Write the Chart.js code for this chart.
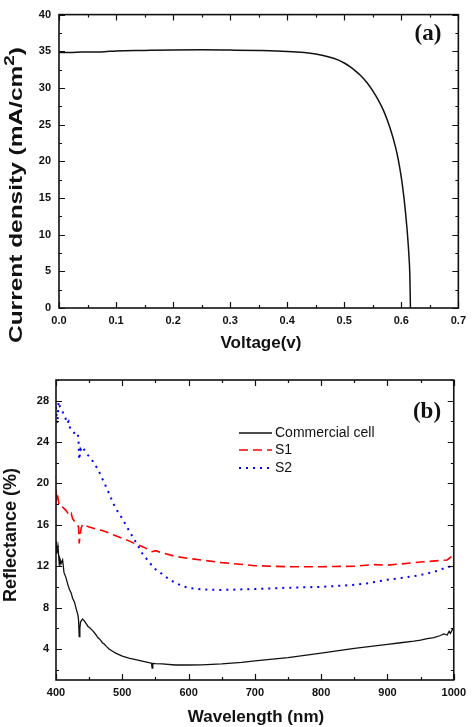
<!DOCTYPE html>
<html>
<head>
<meta charset="utf-8">
<script src="https://cdn.jsdelivr.net/npm/chart.js@4.4.1/dist/chart.umd.min.js"></script>
<style>
  html, body { margin: 0; padding: 0; background: #fff; }
  #wrap { position: relative; width: 472px; height: 727px; overflow: hidden; }
  canvas { position: absolute; left: 0; }
  #jv { top: 0; }
  #refl { top: 360px; }
</style>
</head>
<body>
<div id="wrap">
  <canvas id="jv" width="472" height="360"></canvas>
  <canvas id="refl" width="472" height="367"></canvas>
</div>
<script>
// ---------- (a) J-V curve ----------
const voltage = [0, 0.02, 0.04, 0.06, 0.08, 0.1, 0.15, 0.2, 0.25, 0.3, 0.35, 0.4, 0.43, 0.45, 0.47, 0.49,
  0.5, 0.51, 0.52, 0.53, 0.54, 0.55, 0.56, 0.57, 0.58, 0.59, 0.595, 0.6, 0.605, 0.61, 0.613, 0.615, 0.616];
const currentDensity = [34.85, 34.85, 34.9, 34.9, 34.95, 35.05, 35.12, 35.18, 35.2, 35.16, 35.1, 34.98, 34.82, 34.62, 34.3, 33.8,
  33.4, 32.9, 32.3, 31.6, 30.7, 29.6, 28.3, 26.7, 24.6, 21.9, 20.1, 17.8, 14.8, 10.8, 7.6, 4.4, 0];
const voltTicks = [0, 0.1, 0.2, 0.3, 0.4, 0.5, 0.6, 0.7];
const currentTicks = [0, 5, 10, 15, 20, 25, 30, 35, 40];

// ---------- (b) reflectance ----------
const wlCommercial = [400, 401, 403, 405, 406, 408, 410, 412, 415, 418, 420, 423, 425, 428, 430, 433, 434, 435, 436, 437,
  440, 443, 445, 448, 450, 455, 460, 463, 466, 470, 473, 476, 480, 486, 490, 500, 510, 520, 530, 540, 544, 545, 546,
  550, 560, 580, 600, 620, 650, 680, 700, 750, 800, 850, 900, 920, 940, 950, 960, 970, 980, 985, 990, 993, 995, 998, 1000];
const rCommercial = [14.4, 13.2, 13.9, 12.1, 12.7, 12.3, 12.6, 11.4, 10.9, 10.2, 9.8, 9.4, 8.9, 8.5, 8.0, 7.3, 6.8, 5.2, 6.0, 6.6,
  6.9, 6.7, 6.5, 6.2, 6.1, 5.8, 5.4, 5.1, 4.95, 4.6, 4.45, 4.25, 4.0, 3.75, 3.6, 3.3, 3.12, 2.97, 2.82, 2.68, 2.62, 2.15, 2.6,
  2.58, 2.55, 2.45, 2.45, 2.47, 2.55, 2.7, 2.85, 3.17, 3.6, 4.05, 4.45, 4.6, 4.75, 4.85, 5.0, 5.1, 5.3, 5.45, 5.35, 5.7, 5.5, 5.9, 5.8];

const wlS1 = [400, 401, 402, 404, 405, 410, 415, 420, 423, 425, 430, 434, 435, 436, 438, 440, 450, 460, 470, 480, 490,
  500, 510, 520, 530, 540, 545, 550, 560, 580, 600, 650, 700, 750, 800, 850, 880, 900, 950, 990, 1000];
const rS1 = [19.4, 18.6, 19.0, 18.2, 17.8, 17.7, 17.4, 16.9, 17.1, 16.6, 16.15, 15.8, 14.2, 14.8, 15.7, 16.05, 15.8, 15.6, 15.45, 15.2, 14.95,
  14.7, 14.45, 14.15, 13.9, 13.6, 13.4, 13.5, 13.3, 12.95, 12.75, 12.35, 12.05, 11.95, 11.95, 12.0, 12.15, 12.1, 12.4, 12.6, 13.1];

const wlS2 = [400, 401, 402, 404, 406, 409, 412, 414, 416, 419, 421, 425, 429, 433, 434, 435, 436, 437, 439, 441, 448, 456,
  461, 466, 471, 476, 481, 486, 493, 500, 511, 523, 530, 538, 548, 560, 570, 580, 590, 600, 620, 650, 700, 750, 800,
  850, 870, 900, 920, 950, 970, 990, 1000];
const rS2 = [27.4, 26.4, 25.8, 27.9, 27.4, 27.1, 26.6, 26.45, 25.8, 26.0, 25.4, 25.2, 24.7, 24.8, 24.0, 22.3, 22.8, 23.3, 23.1, 23.4, 22.75, 22.1,
  21.6, 21.0, 20.3, 19.6, 18.9, 18.1, 17.3, 16.6, 15.35, 14.05, 13.25, 12.6, 11.8, 11.25, 10.75, 10.4, 10.1, 9.9, 9.75, 9.7, 9.8, 9.92, 10.0,
  10.2, 10.35, 10.7, 10.85, 11.15, 11.45, 11.9, 12.05];

const wlTicks = [400, 500, 600, 700, 800, 900, 1000];
const reflTicks = [4, 8, 12, 16, 20, 24, 28];

const INK = '#111';
const SANS = '"Liberation Sans", Arial, sans-serif';
const SERIF = '"Liberation Serif", "Times New Roman", serif';

const pairs = (xs, ys) => xs.map((x, i) => ({ x, y: ys[i] }));

/** Major ticks plus the half-step minor ticks between them, inside [min, max]. */
function tickValues(majors, min, max) {
  const half = (majors[1] - majors[0]) / 2;
  let v = majors[0];
  while (v - half >= min - 1e-9) v -= half;
  const out = [];
  for (; v <= max + 1e-9; v += half) {
    out.push({ v, major: majors.some((m) => Math.abs(m - v) < 1e-6) });
  }
  return out;
}

function drawTitle(ctx, t) {
  ctx.save();
  ctx.translate(t.x, t.y);
  if (t.rotate) ctx.rotate(-Math.PI / 2);
  const parts = t.parts || [{ text: t.text }];
  const widths = parts.map((p) => { ctx.font = p.sup ? t.supFont : t.font; return ctx.measureText(p.text).width; });
  const total = widths.reduce((s, w) => s + w, 0);
  if (t.span) ctx.scale(t.span / total, 1);
  let x = -total / 2;
  ctx.fillStyle = INK;
  ctx.textBaseline = 'middle';
  ctx.textAlign = 'left';
  parts.forEach((p, i) => {
    ctx.font = p.sup ? t.supFont : t.font;
    ctx.fillText(p.text, x, p.sup ? -7 : 0);
    x += widths[i];
  });
  ctx.restore();
}

// box, inward ticks on all four sides, titles, panel tag, in-plot legend
function makeFrame(cfg) {
  return {
    id: 'frame',
    afterDraw(chart) {
      const { ctx, chartArea: a, scales } = chart;
      const xs = scales.x, ys = scales.y;
      ctx.save();
      ctx.strokeStyle = INK;
      ctx.lineWidth = 1.2;
      tickValues(xs.ticks.map((t) => t.value), xs.min, xs.max).forEach(({ v, major }) => {
        const len = major ? 6 : 3;
        const px = Math.round(xs.getPixelForValue(v)) + 0.5;
        ctx.beginPath();
        ctx.moveTo(px, a.bottom); ctx.lineTo(px, a.bottom - len);
        ctx.moveTo(px, a.top); ctx.lineTo(px, a.top + len);
        ctx.stroke();
      });
      tickValues(ys.ticks.map((t) => t.value), ys.min, ys.max).forEach(({ v, major }) => {
        const len = major ? 6 : 3;
        const py = Math.round(ys.getPixelForValue(v)) + 0.5;
        ctx.beginPath();
        ctx.moveTo(a.left, py); ctx.lineTo(a.left + len, py);
        ctx.moveTo(a.right, py); ctx.lineTo(a.right - len, py);
        ctx.stroke();
      });
      ctx.lineWidth = 1.6;
      ctx.strokeRect(a.left, a.top, a.right - a.left, a.bottom - a.top);

      (cfg.titles || []).forEach((t) => drawTitle(ctx, t));

      if (cfg.tag) {
        ctx.font = cfg.tag.font;
        ctx.fillStyle = INK;
        ctx.textAlign = 'center';
        ctx.textBaseline = 'middle';
        ctx.fillText(cfg.tag.text, cfg.tag.x, cfg.tag.y);
      }

      if (cfg.legend) {
        const L = cfg.legend;
        chart.data.datasets.forEach((ds, i) => {
          const y = L.rows[i];
          ctx.save();
          ctx.strokeStyle = ds.borderColor;
          ctx.lineWidth = ds.borderWidth;
          ctx.setLineDash(ds.borderDash || []);
          ctx.beginPath();
          ctx.moveTo(L.x1, y); ctx.lineTo(L.x2, y);
          ctx.stroke();
          ctx.restore();
          ctx.font = L.font;
          ctx.fillStyle = INK;
          ctx.textAlign = 'left';
          ctx.textBaseline = 'middle';
          ctx.fillText(ds.label, L.tx, y + 0.5);
        });
      }
      ctx.restore();
    },
  };
}

const tickFont = { family: SANS, weight: 'bold', size: 11 };

function axis(min, max, ticks, fmt, padding, fitSize, isX) {
  return {
    type: 'linear', min, max,
    grid: { display: false, drawTicks: false },
    border: { display: false },
    afterBuildTicks: (s) => { s.ticks = ticks.map((v) => ({ value: v })); },
    afterFit: (s) => { if (isX) s.height = fitSize; else s.width = fitSize; },
    ticks: { font: tickFont, color: INK, padding, autoSkip: false, maxRotation: 0, callback: fmt },
  };
}

// ---------- chart (a) ----------
new Chart(document.getElementById('jv'), {
  type: 'line',
  data: {
    datasets: [{
      label: 'J-V', data: pairs(voltage, currentDensity),
      borderColor: INK, borderWidth: 1.5, pointRadius: 0, cubicInterpolationMode: 'monotone',
    }],
  },
  options: {
    responsive: false, animation: false,
    layout: { padding: { top: 6, right: 9, left: 0, bottom: 0 } },
    plugins: { legend: { display: false }, tooltip: { enabled: false } },
    scales: {
      x: axis(0, 0.7, voltTicks, (v) => Number(v).toFixed(1), 6, 52, true),
      y: axis(0, 40, currentTicks, (v) => v, 8, 59, false),
    },
  },
  plugins: [makeFrame({
    titles: [
      { text: 'Voltage(v)', x: 261, y: 343, font: 'bold 17px ' + SANS },
      {
        parts: [{ text: 'Current density (mA/cm' }, { text: '2', sup: true }, { text: ')' }],
        x: 17, y: 195, rotate: true, font: 'bold 18px ' + SANS, supFont: 'bold 14px ' + SANS, span: 296,
      },
    ],
    tag: { text: '(a)', x: 428, y: 34, font: 'bold 23px ' + SERIF },
  })],
});

// ---------- chart (b) ----------
new Chart(document.getElementById('refl'), {
  type: 'line',
  data: {
    datasets: [
      { label: 'Commercial cell', data: pairs(wlCommercial, rCommercial), borderColor: INK, borderWidth: 1.3, pointRadius: 0, tension: 0 },
      { label: 'S1', data: pairs(wlS1, rS1), borderColor: '#ff0000', borderWidth: 1.6, borderDash: [9, 5], pointRadius: 0, tension: 0 },
      { label: 'S2', data: pairs(wlS2, rS2), borderColor: '#0000ff', borderWidth: 2, borderDash: [2, 5], pointRadius: 0, tension: 0 },
    ],
  },
  options: {
    responsive: false, animation: false,
    layout: { padding: { top: 20, right: 13, left: 0, bottom: 0 } },
    plugins: { legend: { display: false }, tooltip: { enabled: false } },
    scales: {
      x: axis(400, 1000, wlTicks, (v) => v, 6, 47, true),
      y: axis(1, 30, reflTicks, (v) => v, 7, 56, false),
    },
  },
  plugins: [makeFrame({
    titles: [
      { text: 'Wavelength (nm)', x: 256, y: 357, font: 'bold 17px ' + SANS },
      { text: 'Reflectance (%)', x: 11, y: 175, rotate: true, font: 'bold 18px ' + SANS },
    ],
    tag: { text: '(b)', x: 427, y: 52, font: 'bold 23px ' + SERIF },
    legend: { x1: 239, x2: 272, tx: 275, rows: [73, 90, 108], font: '14px ' + SANS },
  })],
});
</script>
</body>
</html>
